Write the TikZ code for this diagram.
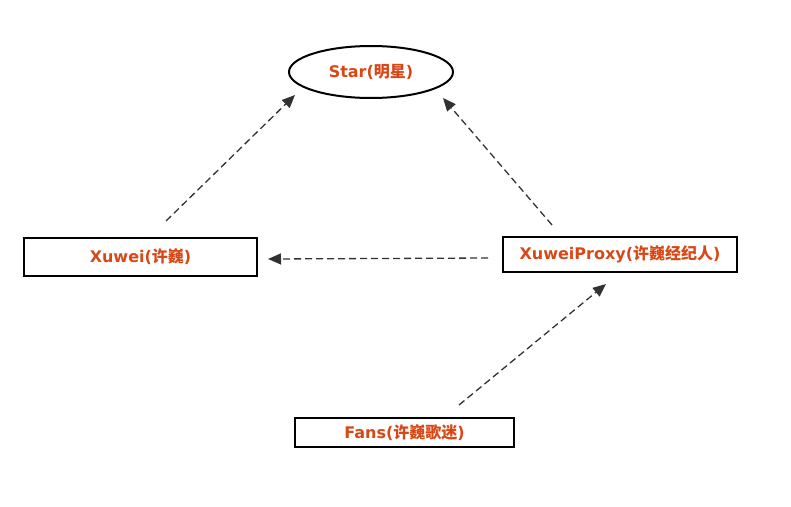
\documentclass[tikz,border=0pt]{standalone}
\usepackage{fontspec}
\setmainfont{DejaVu Sans}
\newfontfamily\cjk{Noto Sans CJK SC}
\usetikzlibrary{arrows.meta,shapes.geometric}
\newcommand{\zh}[1]{{\cjk\bfseries #1}}
\definecolor{lbl}{RGB}{216,72,22}
\definecolor{conn}{RGB}{50,50,50}
\tikzset{
  lbltext/.style={text=lbl, font=\bfseries\fontsize{16}{19}\selectfont},
  boxnode/.style={draw=black, line width=2pt, rectangle, inner sep=0pt, lbltext},
  ellnode/.style={draw=black, line width=2pt, ellipse, inner sep=0pt, lbltext},
  conn/.style={draw=conn, line width=1.3pt, dash pattern=on 7pt off 4pt, -{Triangle[length=13pt,width=11pt]}}
}
\begin{document}
\begin{tikzpicture}[x=1pt,y=-1pt]
\useasboundingbox (0,0) rectangle (791,506);
\node[ellnode, minimum width=164pt, minimum height=52pt] (star) at (371,72) {Star(\zh{明星})};
\node[boxnode, minimum width=233pt, minimum height=38pt] (xuwei) at (140.5,257) {Xuwei(\zh{许巍})};
\node[boxnode, minimum width=234pt, minimum height=35pt] (proxy) at (620,254.5) {XuweiProxy(\zh{许巍经纪人})};
\node[boxnode, minimum width=219pt, minimum height=29pt] (fans) at (404.5,432.5) {Fans(\zh{许巍歌迷})};
\coordinate (a1s) at (166,221); \coordinate (a1e) at (295,95);
\coordinate (a2s) at (552,225); \coordinate (a2e) at (443,98);
\coordinate (a3s) at (488,258); \coordinate (a3e) at (268,259);
\coordinate (a4s) at (459,405); \coordinate (a4e) at (606,284);
\draw[conn] (a1s) -- (a1e);
\draw[conn] (a2s) -- (a2e);
\draw[conn] (a3s) -- (a3e);
\draw[conn] (a4s) -- (a4e);
\end{tikzpicture}
\end{document}
